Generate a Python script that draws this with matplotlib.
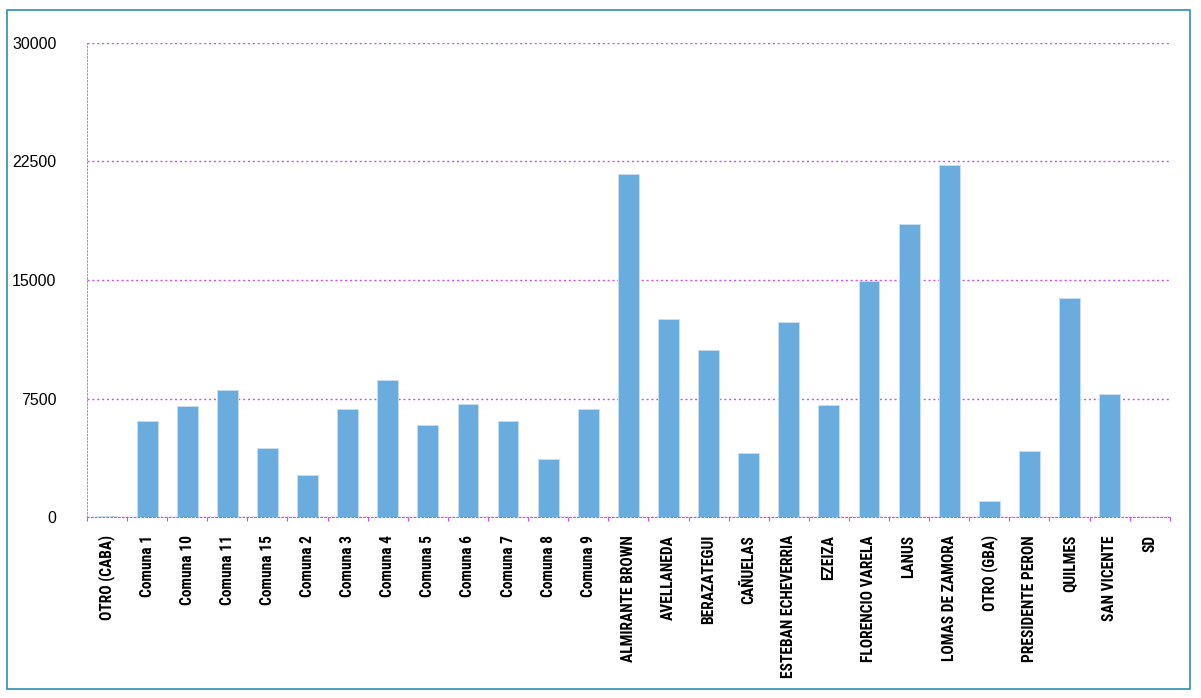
import matplotlib.pyplot as plt
from matplotlib.patches import Rectangle
from matplotlib import font_manager

categorias = ['OTRO (CABA)', 'Comuna 1', 'Comuna 10', 'Comuna 11', 'Comuna 15',
              'Comuna 2', 'Comuna 3', 'Comuna 4', 'Comuna 5', 'Comuna 6',
              'Comuna 7', 'Comuna 8', 'Comuna 9', 'ALMIRANTE BROWN', 'AVELLANEDA',
              'BERAZATEGUI', 'CAÑUELAS', 'ESTEBAN ECHEVERRIA', 'EZEIZA',
              'FLORENCIO VARELA', 'LANUS', 'LOMAS DE ZAMORA', 'OTRO (GBA)',
              'PRESIDENTE PERON', 'QUILMES', 'SAN VICENTE', 'SD']
valores = [50, 6050, 7020, 8030, 4370, 2660, 6830, 8670, 5820, 7150,
           6070, 3670, 6830, 21700, 12530, 10570, 4050, 12340, 7090,
           14940, 18540, 22280, 1010, 4180, 13860, 7780, 0]
ticks_y = [0, 7500, 15000, 22500, 30000]

# fuente angosta para las categorias
nombres = {f.name for f in font_manager.fontManager.ttflist}
candidatas = ['Liberation Sans Narrow', 'Roboto Condensed', 'Archivo Narrow',
              'Barlow Semi Condensed', 'Asap Condensed']
fuente_cat = next((c for c in candidatas if c in nombres), 'DejaVu Sans')

fig = plt.figure(figsize=(12.01, 6.98), dpi=100)
ax = fig.add_axes([0.0724, 0.2593, 0.9016, 0.6791])

x = list(range(len(categorias)))
ax.bar(x, valores, width=0.52, color='#6AACDD', edgecolor='#C9E0F2', linewidth=0.6, zorder=3)

ax.set_xlim(-0.5, len(categorias) - 0.5)
ax.set_ylim(0, 30000)
ax.set_yticks(ticks_y)
ax.set_yticklabels([str(t) for t in ticks_y], fontsize=11.5, fontfamily='Liberation Sans')
ax.yaxis.grid(True, color='#D24DF0', linestyle=(0, (1.5, 2)), linewidth=1.0)
ax.set_axisbelow(True)
ax.tick_params(axis='y', length=0, pad=22)

ax.set_xticks(x)
ax.set_xticklabels(categorias, rotation=90, fontsize=11.2, fontweight='bold',
                   fontfamily=fuente_cat, va='top')
ax.tick_params(axis='x', length=0, pad=13)
# marcas pequeñas entre categorias
ax.set_xticks([i - 0.5 for i in range(len(categorias) + 1)], minor=True)
ax.tick_params(axis='x', which='minor', length=3, color='#D24DF0', width=0.8)

for lado in ['top', 'right']:
    ax.spines[lado].set_visible(False)
ax.spines['bottom'].set_color('#D24DF0')
ax.spines['bottom'].set_linestyle((0, (1.5, 2)))
ax.spines['left'].set_color('#B27FD8')
ax.spines['left'].set_linestyle((0, (1.5, 2)))
ax.spines['left'].set_linewidth(0.7)

fig.patches.append(Rectangle((6.5 / 1201, 1 - 689 / 698), 1183 / 1201, 679 / 698,
                             transform=fig.transFigure, fill=False,
                             edgecolor='#2E8FB0', linewidth=1.2))

fig.savefig('out.png', dpi=100)
